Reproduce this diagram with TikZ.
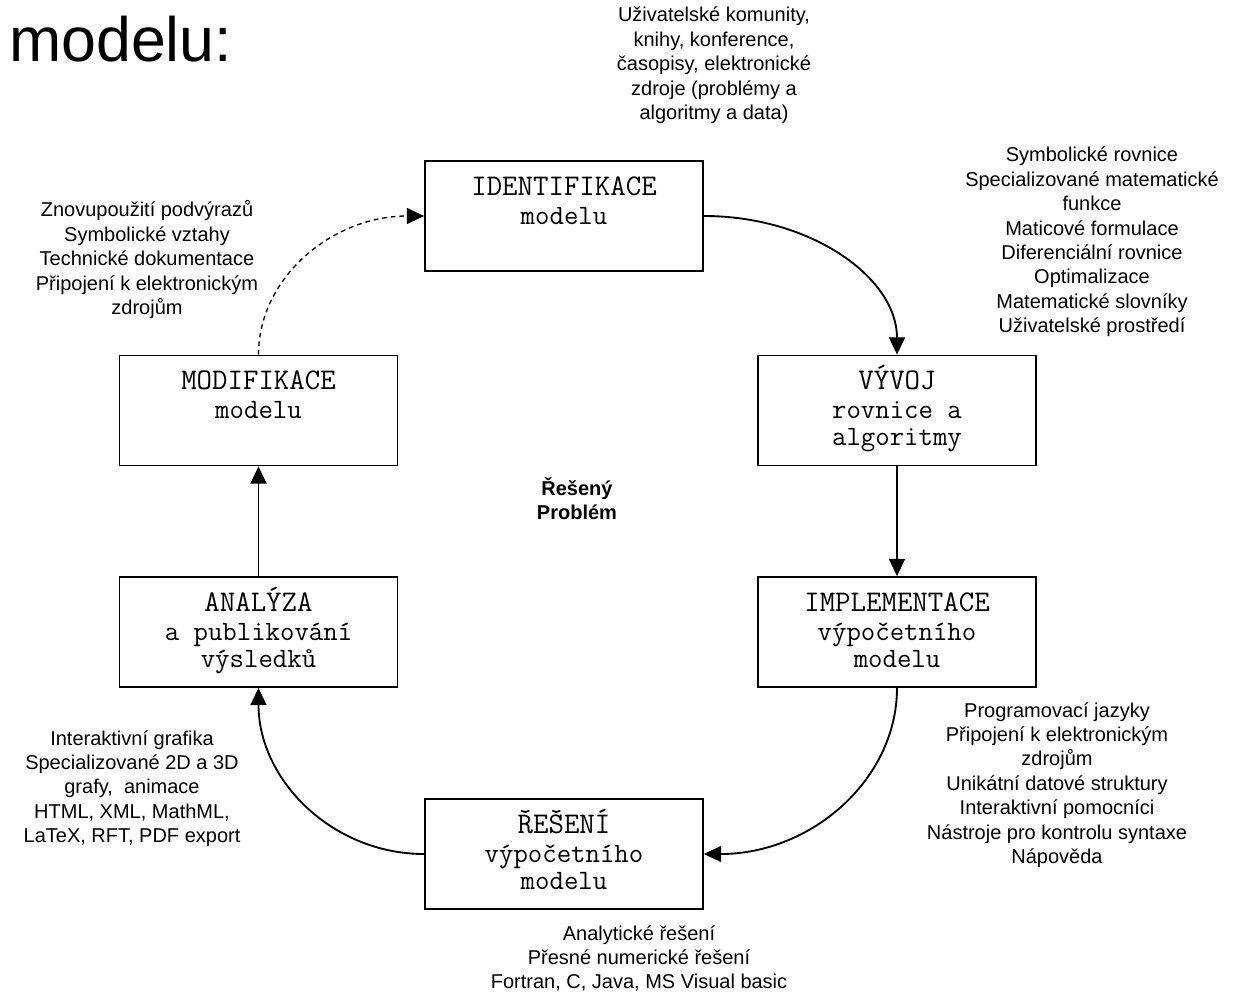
\documentclass[tikz,border=0pt]{standalone}
\usepackage{fontspec}
\setmainfont{Liberation Sans}
\usetikzlibrary{arrows.meta,calc}
\newcommand\annblock[1]{\begin{tabular}[t]{@{}c@{}}#1\end{tabular}}
\begin{document}
\begin{tikzpicture}[x=0.75pt,y=-0.75pt,
  box/.style={draw, line width=1.3pt, minimum width=208.5pt, minimum height=82.5pt, inner sep=0pt},
  ttl/.style={anchor=base, inner sep=0pt, font=\ttfamily\fontsize{22.5pt}{27pt}\selectfont},
  sub/.style={anchor=base, inner sep=0pt, font=\ttfamily\fontsize{21pt}{20.3pt}\selectfont},
  note/.style={anchor=base, inner sep=0pt, font=\fontsize{15pt}{18.3pt}\selectfont},
  conn/.style={line width=1.4pt, -{Triangle[length=13pt,width=12pt]}},
  dconn/.style={line width=1pt, dash pattern=on 3.5pt off 3pt, -{Triangle[length=13pt,width=12pt]}},
]
\useasboundingbox (0,0) rectangle (1241,994);

% heading fragment
\node[anchor=base west, inner sep=0pt, font=\fontsize{47pt}{56pt}\selectfont] (head) at (9,62) {modelu:};

% boxes
\node[box] (ident) at (564,216) {};
\node[box] (vyvoj) at (897,410.5) {};
\node[box] (impl)  at (897,632) {};
\node[box] (resen) at (564,854) {};
\node[box] (anal)  at (258.5,632) {};
\node[box] (modif) at (258.5,410.5) {};

% box texts
\node[ttl] (identT) at ($(ident.north)+(0,35)$) {IDENTIFIKACE};
\node[sub] (identS) at ($(ident.north)+(0,64)$) {\annblock{modelu}};
\node[ttl] (vyvojT) at ($(vyvoj.north)+(0,35)$) {VÝVOJ};
\node[sub] (vyvojS) at ($(vyvoj.north)+(0,64)$) {\annblock{rovnice a\\algoritmy}};
\node[ttl] (implT) at ($(impl.north)+(0,35)$) {IMPLEMENTACE};
\node[sub] (implS) at ($(impl.north)+(0,64)$) {\annblock{výpočetního\\modelu}};
\node[ttl] (resenT) at ($(resen.north)+(0,35)$) {ŘEŠENÍ};
\node[sub] (resenS) at ($(resen.north)+(0,64)$) {\annblock{výpočetního\\modelu}};
\node[ttl] (analT) at ($(anal.north)+(0,35)$) {ANALÝZA};
\node[sub] (analS) at ($(anal.north)+(0,64)$) {\annblock{a publikování\\výsledků}};
\node[ttl] (modifT) at ($(modif.north)+(0,35)$) {MODIFIKACE};
\node[sub] (modifS) at ($(modif.north)+(0,64)$) {\annblock{modelu}};

% centre label
\node[note, font=\bfseries\fontsize{15pt}{18.3pt}\selectfont] (center) at (577,495) {\annblock{Řešený\\Problém}};

% annotations
\node[note] (nTop) at (714,22) {\annblock{Uživatelské komunity,\\knihy, konference,\\časopisy, elektronické\\zdroje (problémy a\\algoritmy a data)}};
\node[note] (nRight1) at (1092,162) {\annblock{Symbolické rovnice\\Specializované matematické\\funkce\\Maticové formulace\\Diferenciální rovnice\\Optimalizace\\Matematické slovníky\\Uživatelské prostředí}};
\node[note] (nRight2) at (1057,717) {\annblock{Programovací jazyky\\Připojení k elektronickým\\zdrojům\\Unikátní datové struktury\\Interaktivní pomocníci\\Nástroje pro kontrolu syntaxe\\Nápověda}};
\node[note] (nBottom) at (639,940) {\annblock{Analytické řešení\\Přesné numerické řešení\\Fortran, C, Java, MS Visual basic}};
\node[note] (nLeft2) at (132,745) {\annblock{Interaktivní grafika\\Specializované 2D a 3D\\grafy,~ animace\\HTML, XML, MathML,\\LaTeX, RFT, PDF export}};
\node[note] (nLeft1) at (147,217) {\annblock{Znovupoužití podvýrazů\\Symbolické vztahy\\Technické dokumentace\\Připojení k elektronickým\\zdrojům}};

% connectors
\draw[conn] (ident.east) .. controls +(107,0) and +(0,-77) .. (vyvoj.north);
\draw[conn] (vyvoj.south) -- (impl.north);
\draw[conn] (impl.south) .. controls +(0,92) and +(107,0) .. (resen.east);
\draw[conn] (resen.west) .. controls +(-92,0) and +(0,92) .. (anal.south);
\draw[conn] (anal.north) -- (modif.south);
\draw[dconn] (modif.north) .. controls +(0,-77) and +(-92,0) .. (ident.west);
\end{tikzpicture}
\end{document}
